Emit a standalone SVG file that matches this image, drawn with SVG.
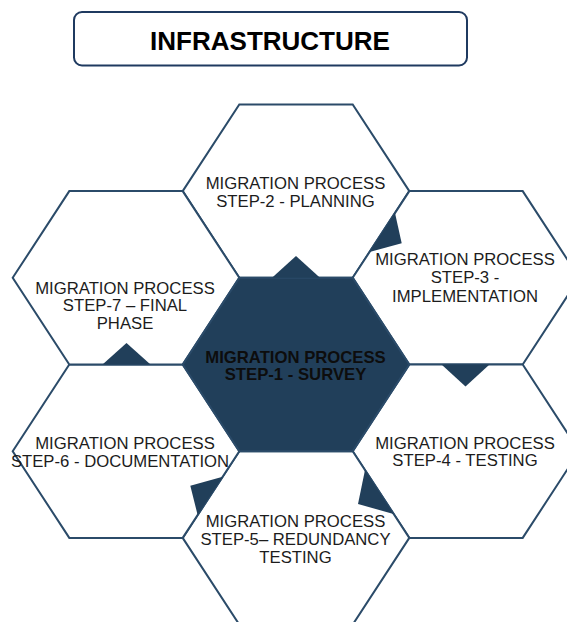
<svg xmlns="http://www.w3.org/2000/svg" width="567" height="622" viewBox="0 0 567 622">
<style>
.hex{fill:#ffffff;stroke:#2b4b69;stroke-width:2;stroke-linejoin:miter}
.core{fill:#213f5a;stroke:#2b4b69;stroke-width:2}
.tri{fill:#213f5a;stroke:none}
.lbl{font-family:"Liberation Sans",Arial,sans-serif;font-size:16.7px;fill:#1c1c1c;text-anchor:middle}
.bold{font-weight:bold;fill:#0d0d0d}
.title{font-family:"Liberation Sans",Arial,sans-serif;font-size:26px;font-weight:bold;fill:#000;text-anchor:middle}
</style>
<rect width="567" height="622" fill="#ffffff"/>
<g id="title">
<rect x="74" y="12" width="393" height="53.5" rx="8" ry="8" fill="#ffffff" stroke="#1f3a60" stroke-width="2"/>
<text class="title" x="270" y="50">INFRASTRUCTURE</text>
</g>
<g id="step2">
<polygon class="hex" points="182.7,191.1 239.3,104.4 352.7,104.4 409.3,191.1 352.7,277.8 239.3,277.8"/>
<text class="lbl" x="295.5" y="188.7">MIGRATION PROCESS</text>
<text class="lbl" x="295.5" y="206.5">STEP-2 - PLANNING</text>
</g>
<g id="step3">
<polygon class="hex" points="352.7,277.8 409.3,191.1 522.7,191.1 579.3,277.8 522.7,364.5 409.3,364.5"/>
<text class="lbl" x="465" y="265">MIGRATION PROCESS</text>
<text class="lbl" x="465" y="283">STEP-3 -</text>
<text class="lbl" x="465" y="302">IMPLEMENTATION</text>
</g>
<g id="step4">
<polygon class="hex" points="352.7,451.2 409.3,364.5 522.7,364.5 579.3,451.2 522.7,537.9 409.3,537.9"/>
<text class="lbl" x="465" y="448.5">MIGRATION PROCESS</text>
<text class="lbl" x="465" y="466">STEP-4 - TESTING</text>
</g>
<g id="step5">
<polygon class="hex" points="182.7,537.9 239.3,451.2 352.7,451.2 409.3,537.9 352.7,624.6 239.3,624.6"/>
<text class="lbl" x="295.5" y="527.2">MIGRATION PROCESS</text>
<text class="lbl" x="295.5" y="545">STEP-5– REDUNDANCY</text>
<text class="lbl" x="295.5" y="562.5">TESTING</text>
</g>
<g id="step6">
<polygon class="hex" points="12.7,451.2 69.3,364.5 182.7,364.5 239.3,451.2 182.7,537.9 69.3,537.9"/>
<text class="lbl" x="125" y="448.5">MIGRATION PROCESS</text>
<text class="lbl" x="120" y="467">STEP-6 - DOCUMENTATION</text>
</g>
<g id="step7">
<polygon class="hex" points="12.7,277.8 69.3,191.1 182.7,191.1 239.3,277.8 182.7,364.5 69.3,364.5"/>
<text class="lbl" x="125" y="293.5">MIGRATION PROCESS</text>
<text class="lbl" x="125" y="311">STEP-7 – FINAL</text>
<text class="lbl" x="125" y="328.5">PHASE</text>
</g>
<g id="step1">
<polygon class="core" points="182.7,364.5 239.3,277.8 352.7,277.8 409.3,364.5 352.7,451.2 239.3,451.2"/>
<text class="lbl bold" x="295.5" y="362.5">MIGRATION PROCESS</text>
<text class="lbl bold" x="295.5" y="380">STEP-1 - SURVEY</text>
</g>
<g id="connectors">
<polygon class="tri" points="272,277.8 296,256 320,277.8"/>
<polygon class="tri" points="395,213 369.5,252 401.7,243.3"/>
<polygon class="tri" points="441.5,364.5 465.5,386.5 489.5,364.5"/>
<polygon class="tri" points="365,470 393.5,514 358,504"/>
<polygon class="tri" points="222.7,476.7 197.6,515 190.3,485.7"/>
<polygon class="tri" points="102.5,364.5 126.5,343 150.5,364.5"/>
</g>
</svg>
